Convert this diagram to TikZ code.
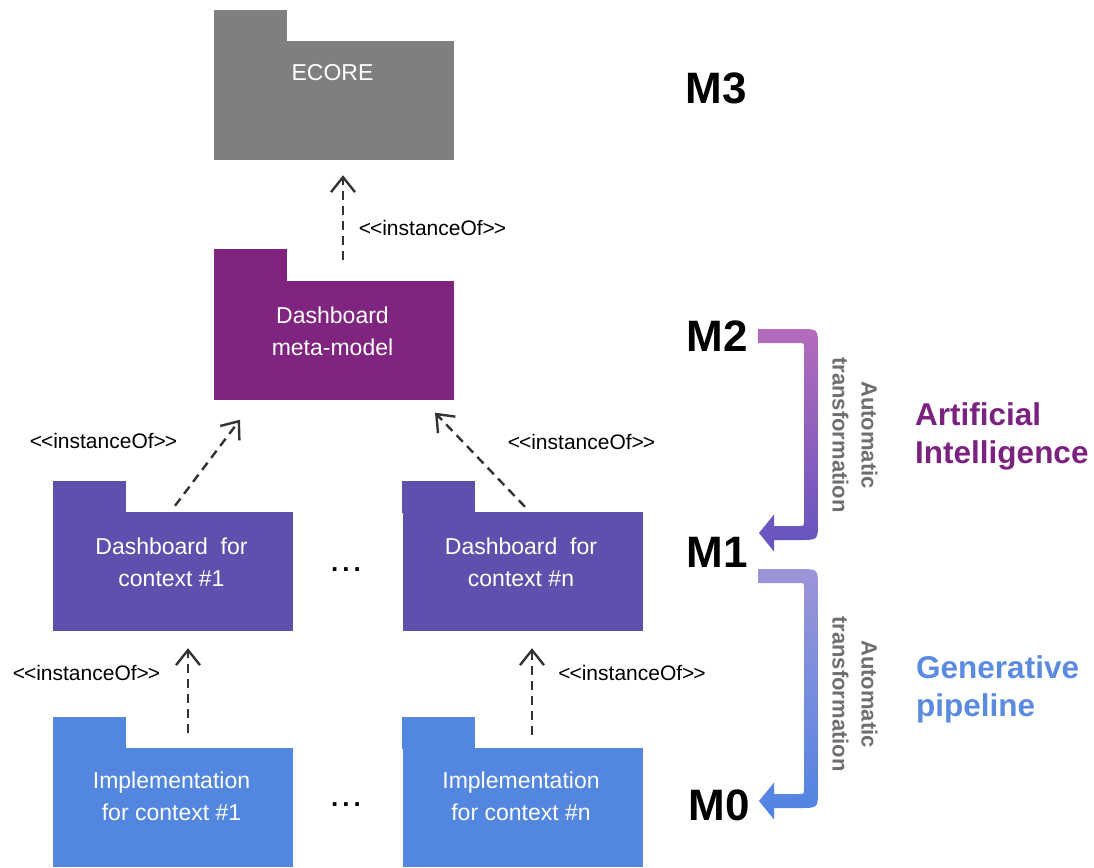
\documentclass[tikz,border=0pt]{standalone}
\usepackage{fontspec}
\setmainfont{Liberation Sans}
\usetikzlibrary{arrows.meta,calc}

\definecolor{ecoregray}{HTML}{7F7F7F}
\definecolor{metapurple}{HTML}{80257F}
\definecolor{dashviolet}{HTML}{5E51AD}
\definecolor{implblue}{HTML}{5386DE}
\definecolor{aipurple}{HTML}{7B2280}
\definecolor{genblue}{HTML}{5A8BE0}
\definecolor{notegray}{HTML}{6E6E6E}
\definecolor{linkgray}{HTML}{333333}
\definecolor{arrAtop}{HTML}{B46CBC}
\definecolor{arrAbot}{HTML}{6553BF}
\definecolor{arrBtop}{HTML}{9D95D8}
\definecolor{arrBbot}{HTML}{4F83E3}

\tikzset{
  pkg/.style={rectangle, inner sep=0pt, minimum width=240, minimum height=119, fill=#1},
  pkgtxt/.style={text=white, align=center, inner sep=0pt, font=\fontsize{23}{32}\selectfont},
  inst/.style={draw=linkgray, line width=2.4pt, dash pattern=on 9pt off 6pt,
    -{Straight Barb[length=15pt, width=24pt]}},
  stereo/.style={inner sep=0pt, font=\fontsize{21}{24}\selectfont},
  level/.style={inner sep=0pt, font=\fontsize{44}{50}\selectfont\bfseries},
  fieldlbl/.style={inner sep=0pt, align=left, anchor=west, font=\fontsize{31.5}{38}\selectfont\bfseries},
  note/.style={inner sep=0pt, rotate=-90, align=center, text=notegray,
    font=\fontsize{22}{29}\selectfont\bfseries},
  ellip/.style={inner sep=0pt, font=\fontsize{26}{30}\selectfont\bfseries},
}

% UML package: body node, tab on its upper left, white caption
\newcommand\package[5]{% name, centre, colour, caption offset, caption
  \node[pkg=#3] (#1) at (#2) {};
  \fill[#3] ($(#1.north west)+(0,1)$) rectangle ++(73,-32);
  \node[pkgtxt] (#1-txt) at ($(#1.north)+(-1.5,#4)$) {#5};
}

% bent block arrow between two levels, shaded from top to bottom
\newcommand\bendarrow[4]{% top y, bottom y, top colour, bottom colour
  \shade[top color=#3, bottom color=#4]
    (758,#1-7) -- (800,#1-7) .. controls (818,#1-7) .. (818,#1+11)
    -- (818,#2-11) .. controls (818,#2+7) .. (800,#2+7)
    -- (774,#2+7) -- (774,#2+18.5) -- (759,#2) -- (774,#2-18.5) -- (774,#2-7)
    -- (799,#2-7) .. controls (804,#2-7) .. (804,#2-12)
    -- (804,#1+12) .. controls (804,#1+7) .. (799,#1+7)
    -- (758,#1+7) -- cycle;
}

\begin{document}
\begin{tikzpicture}[x=1pt, y=-1pt]
\useasboundingbox (0,0) rectangle (1094,867);

% packages
\package{ecore}{334,100.5}{ecoregray}{32}{ECORE}
\package{meta}{334,340}{metapurple}{51}{Dashboard\\meta-model}
\package{ctxA}{173,571.5}{dashviolet}{50}{Dashboard\ \ for\\context \#1}
\package{ctxN}{522.5,571.5}{dashviolet}{50}{Dashboard\ \ for\\context \#n}
\package{implA}{173,807.5}{implblue}{48.5}{Implementation\\for context \#1}
\package{implN}{522.5,807.5}{implblue}{48.5}{Implementation\\for context \#n}

\node[ellip] (dotsA) at (346,570) {.\kern4pt.\kern4pt.};
\node[ellip] (dotsB) at (346,805) {.\kern4pt.\kern4pt.};

% instance-of dependencies
\draw[inst] ($(meta.north)+(9,-20)$) -- ($(ecore.south)+(9,15)$);
\draw[inst] ($(ctxA.north)+(2,-6)$) -- ($(meta.south)+(-94,20)$);
\draw[inst] ($(ctxN.north)+(2.5,-5)$) -- ($(meta.south)+(101,13)$);
\draw[inst] ($(implA.north)+(15,-15)$) -- ($(ctxA.south)+(15,17)$);
\draw[inst] ($(implN.north)+(9.5,-13)$) -- ($(ctxN.south)+(9.5,17)$);

\node[stereo] (sTop) at (432.5,228) {<\kern-1pt<instanceOf>\kern-1pt>};
\node[stereo] (sMidA) at (103.5,441) {<\kern-1pt<instanceOf>\kern-1pt>};
\node[stereo] (sMidN) at (581.5,442) {<\kern-1pt<instanceOf>\kern-1pt>};
\node[stereo] (sLowA) at (86.5,673) {<\kern-1pt<instanceOf>\kern-1pt>};
\node[stereo] (sLowN) at (632,673) {<\kern-1pt<instanceOf>\kern-1pt>};

% modelling levels
\node[level] (M3) at (716.5,88.5) {M3};
\node[level] (M2) at (717,336.5) {M2};
\node[level] (M1) at (717.5,552) {M1};
\node[level] (M0) at (719,805) {M0};

% transformations between levels
\bendarrow{336}{533}{arrAtop}{arrAbot}
\bendarrow{576}{801}{arrBtop}{arrBbot}

\node[note] (trA) at (855,435) {Automatic\\transformation};
\node[note] (trB) at (855,694) {Automatic\\transformation};

\node[fieldlbl, text=aipurple] (ai) at (915,436) {Artificial\\Intelligence};
\node[fieldlbl, text=genblue] (gen) at (916,689) {Generative\\pipeline};
\end{tikzpicture}
\end{document}
